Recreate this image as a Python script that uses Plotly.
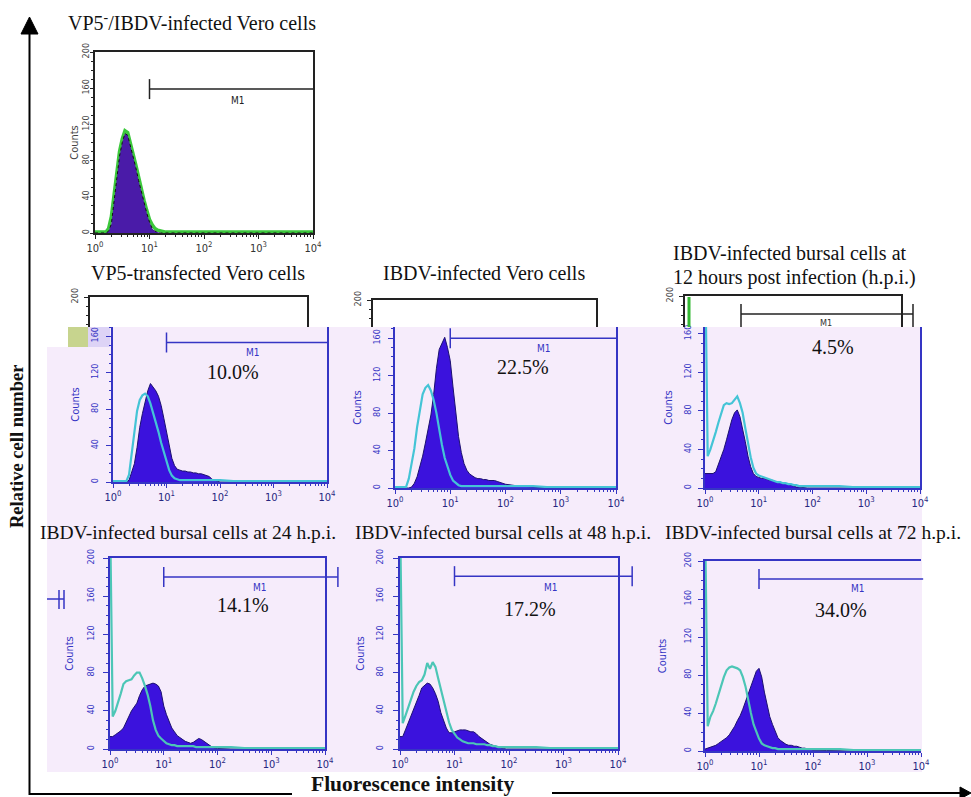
import math
import plotly.graph_objects as go

W, H = 971, 797

# ---------------- data ----------------
LOG_POS = [0.00, 0.05, 0.10, 0.15, 0.20, 0.25, 0.30, 0.35, 0.40, 0.45,
           0.50, 0.55, 0.60, 0.65, 0.70, 0.75, 0.80, 0.85, 0.90, 0.95,
           1.00, 1.05, 1.10, 1.15, 1.20, 1.25, 1.30, 1.35, 1.40, 1.45,
           1.50, 1.55, 1.60, 1.65, 1.70, 1.75, 1.80, 1.85, 1.90, 1.95,
           2.00, 2.25, 2.50, 2.75, 3.00, 3.25, 3.50, 3.75, 4.00]

# VP5-/IBDV-infected Vero cells (control)
P0_FILL = [0, 0, 0, 0, 0, 2, 10, 35, 62, 85, 100, 110, 108, 97, 85, 72, 58, 45, 33, 22,
           12, 5, 2, 1, 0, 0, 0, 0, 0, 0, 0, 0, 0, 0, 0, 0, 0, 0, 0, 0,
           0, 0, 0, 0, 0, 0, 0, 0, 0]
P0_LINE = [1, 1, 1, 1, 1, 5, 18, 42, 68, 90, 104, 113, 111, 100, 88, 75, 62, 48, 36, 25,
           15, 9, 5, 3, 2, 1.5, 1, 1, 1, 1, 1, 1, 1, 1, 1, 1, 1, 1, 1, 1,
           1, 1, 1, 1, 1, 1, 1, 1, 1]
# VP5-transfected Vero cells
P1_FILL = [0, 0, 0, 0, 0, 0, 2, 10, 20, 38, 60, 75, 88, 100, 108, 104, 100, 94, 84, 70,
           55, 38, 26, 18, 14, 13, 12, 12, 11, 11, 10, 10, 9, 9, 8, 7, 6, 3, 2, 1,
           0, 0, 0, 0, 0, 0, 0, 0, 0]
P1_LINE = [1, 1, 1, 1, 1, 1, 8, 32, 60, 78, 90, 95, 97, 94, 86, 76, 66, 55, 43, 32,
           22, 13, 7, 4, 3, 2, 2, 2, 2, 2, 2, 2, 2, 2, 2, 2, 2, 2, 2, 2,
           2, 1, 1, 1, 1, 1, 1, 1, 1]
# IBDV-infected Vero cells
P2_FILL = [0, 0, 0, 0, 0, 0, 1, 5, 12, 22, 34, 48, 62, 78, 100, 128, 148, 155, 161, 150,
           136, 108, 80, 55, 38, 26, 19, 15, 13, 11, 10, 10, 9, 9, 8, 8, 8, 7, 6, 5,
           4, 2, 1, 0.5, 0, 0, 0, 0, 0]
P2_LINE = [1, 1, 1, 1, 1, 10, 25, 42, 65, 85, 100, 107, 110, 104, 94, 80, 62, 46, 32, 22,
           14, 8, 5, 3, 2, 2, 2, 2, 2, 2, 2, 2, 2, 2, 2, 2, 2, 2, 2, 2,
           2, 2, 2, 1, 1, 1, 1, 1, 1]
# IBDV-infected bursal cells, 12 h.p.i.
P3_FILL = [15, 15, 15, 15, 17, 24, 32, 40, 50, 60, 71, 78, 81, 74, 62, 48, 33, 22, 15, 12,
           11, 10, 10, 9, 8, 8, 7, 6, 6, 5, 5, 4, 3, 2, 1, 1, 0.5, 0, 0, 0,
           0, 0, 0, 0, 0, 0, 0, 0, 0]
P3_LINE = [250, 33, 40, 48, 58, 68, 78, 86, 88, 87, 88, 92, 95, 88, 78, 62, 46, 32, 21, 15,
           13, 12, 11, 10, 9, 8, 7, 6, 6, 5, 5, 4, 4, 3, 3, 2, 2, 2, 2, 2,
           2, 2, 2, 1, 1, 1, 1, 1, 1]
# IBDV-infected bursal cells, 24 h.p.i.
P4_FILL = [13, 13, 15, 17, 19, 22, 28, 35, 40, 44, 48, 56, 62, 66, 67, 68, 69, 68, 66, 60,
           45, 36, 28, 22, 18, 14, 12, 10, 8, 7, 6, 7, 9, 11, 10, 8, 6, 4, 2, 1,
           0.5, 0, 0, 0, 0, 0, 0, 0, 0]
P4_LINE = [250, 34, 40, 48, 58, 68, 71, 72, 73, 77, 80, 80, 74, 66, 57, 45, 30, 20, 14, 11,
           8, 6, 5, 4, 4, 3, 3, 3, 3, 3, 3, 3, 2, 2, 2, 2, 2, 2, 2, 2,
           2, 2, 1, 1, 1, 1, 1, 1, 1]
# IBDV-infected bursal cells, 48 h.p.i.
P5_FILL = [13, 13, 20, 27, 33, 40, 48, 56, 64, 67, 69, 68, 64, 58, 50, 38, 30, 22, 17, 17,
           18, 19, 20, 20, 20, 19, 18, 18, 16, 13, 11, 9, 7, 5, 4, 3, 2, 1, 0.5, 0,
           0, 0, 0, 0, 0, 0, 0, 0, 0]
P5_LINE = [250, 27, 35, 44, 52, 60, 66, 70, 72, 78, 90, 84, 91, 86, 74, 62, 50, 38, 28, 20,
           16, 12, 10, 8, 7, 6, 6, 6, 5, 5, 5, 5, 4, 4, 3, 3, 2, 2, 2, 2,
           2, 2, 2, 1, 1, 1, 1, 1, 1]
# IBDV-infected bursal cells, 72 h.p.i.
P6_FILL = [2, 3, 4, 5, 6, 8, 10, 12, 14, 17, 21, 26, 32, 37, 44, 52, 62, 70, 78, 84,
           87, 78, 62, 48, 36, 28, 20, 14, 11, 9, 7, 6, 6, 5, 5, 4, 3, 3, 2, 2,
           1, 0.5, 0, 0, 0, 0, 0, 0, 0]
P6_LINE = [250, 26, 36, 42, 50, 60, 68, 78, 85, 88, 89, 88, 87, 85, 78, 68, 52, 40, 28, 20,
           13, 8, 6, 5, 4, 3, 3, 2, 2, 2, 2, 2, 2, 2, 2, 2, 2, 2, 2, 2,
           2, 2, 2, 1, 1, 1, 1, 1, 1]

PANEL_TITLES = ["VP5<sup>-</sup>/IBDV-infected Vero cells",
                "VP5-transfected Vero cells",
                "IBDV-infected Vero cells",
                "IBDV-infected bursal cells at",
                "12 hours post infection (h.p.i.)",
                "IBDV-infected bursal cells at 24 h.p.i.",
                "IBDV-infected bursal cells at 48 h.p.i.",
                "IBDV-infected bursal cells at 72 h.p.i."]
PERCENTS = ["", "10.0%", "22.5%", "4.5%", "14.1%", "17.2%", "34.0%"]
M1_START = 10
Y_TICKS = [0, 40, 80, 120, 160, 200]
X_TICKS = [1, 10, 100, 1000, 10000]
X_TICK_LABELS = ["10<sup>0</sup>", "10<sup>1</sup>", "10<sup>2</sup>", "10<sup>3</sup>", "10<sup>4</sup>"]
X_MINOR = [m * d for d in (1, 10, 100, 1000) for m in range(2, 10)]

# ---------------- helpers ----------------
def fx(p):
    return p / W

def fy(p):
    return 1 - p / H

X_VALS = [10 ** p for p in LOG_POS]

SERIF = "Liberation Serif, Times New Roman, serif"
NARROW = "Liberation Sans Narrow, DejaVu Sans Condensed, Arial Narrow, sans-serif"
BLUE = "#3535c4"
NAVY = "#262680"
LAV = "#f6ecfb"

PANELS = [
    dict(x=(95, 313), y=(52, 233), ymax=200, fill=P0_FILL, line=P0_LINE, style="white",
         m1_level=159, m1_end=4.0, m1_right_tick=False, m1_lab=(2.63, 146), pct=None,
         mx=True, my=True, tl=3, tls=-2, ts=0),
    dict(x=(113, 327), y=(327, 482), ymax=170, fill=P1_FILL, line=P1_LINE, style="row2",
         m1_level=153, m1_end=4.0, m1_right_tick=False, m1_lab=(2.62, 142), pct=(2.25, 121),
         mx=False, my=True, tl=5, tls=5, ts=8),
    dict(x=(395, 616), y=(327, 488), ymax=172, fill=P2_FILL, line=P2_LINE, style="row2",
         m1_level=160, m1_end=4.0, m1_right_tick=False, m1_lab=(2.7, 149), pct=(2.31, 129),
         mx=False, my=True, tl=5, tls=5, ts=8),
    dict(x=(705, 920), y=(327, 488), ymax=167, fill=P3_FILL, line=P3_LINE, style="row2",
         m1_level=None, m1_end=None, m1_right_tick=False, m1_lab=None, pct=(2.38, 146),
         mx=False, my=True, tl=5, tls=4, ts=8),
    dict(x=(110, 325), y=(558, 749), ymax=200, fill=P4_FILL, line=P4_LINE, style="row3",
         m1_level=180, m1_end=4.24, m1_right_tick=True, m1_lab=(2.79, 169), pct=(2.47, 151),
         mx=True, my=True, tl=5, tls=6, ts=10),
    dict(x=(400, 618), y=(558, 749), ymax=200, fill=P5_FILL, line=P5_LINE, style="row3",
         m1_level=181, m1_end=4.26, m1_right_tick=True, m1_lab=(2.77, 169), pct=(2.39, 147),
         mx=True, my=True, tl=5, tls=7, ts=8),
    dict(x=(705, 921), y=(561, 751), ymax=200, fill=P6_FILL, line=P6_LINE, style="row3",
         m1_level=181, m1_end=4.04, m1_right_tick=False, m1_lab=(2.83, 171), pct=(2.51, 148),
         mx=True, my=False, tl=5, tls=4, ts=14),
]

fig = go.Figure()
shapes = []
annotations = []
layout_axes = {}

# lavender backdrop of the pasted panels
shapes.append(dict(type="rect", xref="paper", yref="paper", layer="below",
                   x0=fx(47), x1=fx(922), y0=fy(772), y1=fy(347),
                   fillcolor=LAV, line=dict(width=0)))
shapes.append(dict(type="rect", xref="paper", yref="paper", layer="below",
                   x0=fx(110), x1=fx(922), y0=fy(348), y1=fy(327),
                   fillcolor=LAV, line=dict(width=0)))
shapes.append(dict(type="rect", xref="paper", yref="paper", layer="below",
                   x0=fx(68), x1=fx(88), y0=fy(347), y1=fy(327),
                   fillcolor="#c7d48e", line=dict(width=0)))
shapes.append(dict(type="rect", xref="paper", yref="paper", layer="below",
                   x0=fx(88), x1=fx(110), y0=fy(347), y1=fy(327),
                   fillcolor="#ddd3f6", line=dict(width=0)))

for i, p in enumerate(PANELS):
    n = i + 1
    xa = "x" if n == 1 else f"x{n}"
    ya = "y" if n == 1 else f"y{n}"
    white = p["style"] == "white"
    axcol = "#222222" if white else BLUE
    xlabcol = "#333333" if white else NAVY
    ylabcol = "#444444" if white else BLUE
    if white:
        fillcol, edgecol, linecol, lw = "#4a1ba8", "#111111", "#3cc83c", 3.5
    elif p["style"] == "row2":
        fillcol, edgecol, linecol, lw = "#3b12dd", "#1c1070", "#44c4d6", 2.2
    else:
        fillcol, edgecol, linecol, lw = "#3b12dd", "#1c1070", "#4cc6b6", 2.2

    overlay = go.Scatter(x=X_VALS, y=p["line"], mode="lines",
                         line=dict(color=linecol, width=lw), xaxis=xa, yaxis=ya,
                         hoverinfo="skip", showlegend=False)
    filled = go.Scatter(x=X_VALS, y=p["fill"], mode="lines", fill="tozeroy",
                        fillcolor=fillcol,
                        line=dict(color=edgecol, width=1, dash="dot" if white else "solid"),
                        xaxis=xa, yaxis=ya, hoverinfo="skip", showlegend=False)
    if white:
        fig.add_trace(overlay)
        fig.add_trace(filled)
    else:
        fig.add_trace(filled)
        fig.add_trace(overlay)

    key_x = "xaxis" if n == 1 else f"xaxis{n}"
    key_y = "yaxis" if n == 1 else f"yaxis{n}"
    layout_axes[key_x] = dict(
        type="log", range=[0, 4], domain=[fx(p["x"][0]), fx(p["x"][1])],
        anchor=ya, showline=True, linecolor=axcol, linewidth=1.5, mirror=p["mx"],
        showgrid=False, zeroline=False, ticks="outside", ticklen=4, tickcolor=axcol,
        tickvals=X_TICKS, ticktext=X_TICK_LABELS, automargin=False,
        tickfont=dict(family=NARROW, size=11, color=xlabcol),
        minor=dict(tickvals=X_MINOR, ticks="outside", ticklen=2, tickcolor=axcol),
        fixedrange=True)
    layout_axes[key_y] = dict(
        range=[0, p["ymax"]], domain=[fy(p["y"][1]), fy(p["y"][0])],
        anchor=xa, showline=True, linecolor=axcol, linewidth=1.5, mirror=p["my"],
        showgrid=False, zeroline=False, ticks="outside", ticklen=p["tl"], tickcolor=axcol,
        tickvals=Y_TICKS, tickangle=-90, ticklabelstandoff=p["tls"], automargin=False,
        tickfont=dict(family=NARROW, size=9, color=ylabcol),
        minor=dict(dtick=10, tick0=0, ticks="outside", ticklen=2, tickcolor=axcol),
        title=dict(text="Counts", font=dict(family=NARROW, size=11, color=ylabcol),
                   standoff=p["ts"]),
        fixedrange=True)

    # M1 marker
    if p["m1_level"] is not None:
        xd0 = math.log10(M1_START) / 4
        xd1 = p["m1_end"] / 4
        yd = p["m1_level"] / p["ymax"]
        hpx = p["y"][1] - p["y"][0]
        tick = 10 / hpx
        dref = dict(xref=f"{xa} domain", yref=f"{ya} domain")
        shapes.append(dict(type="line", x0=xd0, x1=xd1, y0=yd, y1=yd,
                           line=dict(color=axcol, width=1.5), **dref))
        shapes.append(dict(type="line", x0=xd0, x1=xd0, y0=yd - tick, y1=min(yd + tick, 1.0),
                           line=dict(color=axcol, width=1.5), **dref))
        if p["m1_right_tick"]:
            shapes.append(dict(type="line", x0=xd1, x1=xd1, y0=yd - tick, y1=yd + tick,
                               line=dict(color=axcol, width=1.5), **dref))
        annotations.append(dict(xref=xa, yref=ya, x=p["m1_lab"][0], y=p["m1_lab"][1],
                                text="M1", showarrow=False,
                                font=dict(family=NARROW, size=10, color=axcol)))
    if p["pct"] is not None:
        annotations.append(dict(xref=xa, yref=ya, x=p["pct"][0], y=p["pct"][1],
                                text=PERCENTS[i], showarrow=False,
                                font=dict(family=SERIF, size=20, color="#111111")))

# frames of the underlying (covered) panels
PHANTOMS = [
    dict(x=(90, 307), y=(297, 327), low=167.1),
    dict(x=(373, 596), y=(300, 327), low=171.2),
    dict(x=(685, 901), y=(296, 327), low=167.8),
]
for j, ph in enumerate(PHANTOMS):
    n = 8 + j
    layout_axes[f"xaxis{n}"] = dict(
        domain=[fx(ph["x"][0]), fx(ph["x"][1])], anchor=f"y{n}", side="top",
        range=[0, 1], showline=True, linecolor="#222222", linewidth=1.5, automargin=False,
        showticklabels=False, ticks="", showgrid=False, zeroline=False, fixedrange=True)
    layout_axes[f"yaxis{n}"] = dict(
        domain=[fy(ph["y"][1]), fy(ph["y"][0])], anchor=f"x{n}", range=[ph["low"], 200],
        showline=True, mirror=True, linecolor="#222222", linewidth=1.5, automargin=False,
        showgrid=False, zeroline=False, ticks="outside", ticklen=4, tickcolor="#222222",
        tickvals=[200], tickangle=-90, tickfont=dict(family=NARROW, size=9, color="#444444"),
        ticklabelstandoff=3,
        minor=dict(dtick=10, tick0=0, ticks="outside", ticklen=2, tickcolor="#222222"),
        fixedrange=True)
    fig.add_trace(go.Scatter(x=[], y=[], xaxis=f"x{n}", yaxis=f"y{n}", showlegend=False))

# details of the covered 12 h.p.i. panel
shapes.append(dict(type="line", xref="paper", yref="paper", x0=fx(689), x1=fx(689),
                   y0=fy(327), y1=fy(297), line=dict(color="#35b835", width=3)))
shapes.append(dict(type="line", xref="paper", yref="paper", x0=fx(741), x1=fx(913),
                   y0=fy(314), y1=fy(314), line=dict(color="#222222", width=1.5)))
for xx in (741, 913):
    shapes.append(dict(type="line", xref="paper", yref="paper", x0=fx(xx), x1=fx(xx),
                       y0=fy(327), y1=fy(304), line=dict(color="#222222", width=1.5)))
annotations.append(dict(xref="paper", yref="paper", x=fx(834), y=fy(323), text="M1",
                        showarrow=False, font=dict(family=NARROW, size=9, color="#333333")))

# fragment left of the 24 h.p.i. panel
shapes.append(dict(type="line", xref="paper", yref="paper", x0=fx(47), x1=fx(64),
                   y0=fy(599), y1=fy(599), line=dict(color=BLUE, width=1.5)))
for xx in (59, 64):
    shapes.append(dict(type="line", xref="paper", yref="paper", x0=fx(xx), x1=fx(xx),
                       y0=fy(609), y1=fy(590), line=dict(color=BLUE, width=1.5)))

# big axes arrows
shapes.append(dict(type="line", xref="paper", yref="paper", x0=fx(29.5), x1=fx(29.5),
                   y0=fy(795), y1=fy(32), line=dict(color="black", width=2)))
shapes.append(dict(type="path", xref="paper", yref="paper",
                   path=f"M {fx(21)},{fy(34)} L {fx(38)},{fy(34)} L {fx(29.5)},{fy(17)} Z",
                   fillcolor="black", line=dict(color="black", width=1)))
shapes.append(dict(type="line", xref="paper", yref="paper", x0=fx(29), x1=fx(292),
                   y0=fy(794), y1=fy(794), line=dict(color="black", width=2)))
shapes.append(dict(type="line", xref="paper", yref="paper", x0=fx(552), x1=fx(962),
                   y0=fy(793), y1=fy(793), line=dict(color="black", width=2)))
shapes.append(dict(type="path", xref="paper", yref="paper",
                   path=f"M {fx(960)},{fy(787)} L {fx(960)},{fy(799)} L {fx(971)},{fy(793)} Z",
                   fillcolor="black", line=dict(color="black", width=1)))

# titles
def title(text, x, y, anchor="center", size=20):
    annotations.append(dict(xref="paper", yref="paper", x=fx(x), y=fy(y), text=text,
                            xanchor=anchor, yanchor="middle", showarrow=False,
                            font=dict(family=SERIF, size=size, color="#111111")))

title(PANEL_TITLES[0], 192, 22)
title(PANEL_TITLES[1], 198, 273)
title(PANEL_TITLES[2], 484, 273)
title(PANEL_TITLES[3], 671, 253, anchor="left")
title(PANEL_TITLES[4], 671, 277, anchor="left")
title(PANEL_TITLES[5], 188, 532, size=19.5)
title(PANEL_TITLES[6], 503, 532, size=19.5)
title(PANEL_TITLES[7], 813, 532, size=19.5)

annotations.append(dict(xref="paper", yref="paper", x=fx(17), y=fy(447),
                        text="<b>Relative cell number</b>", textangle=-90, showarrow=False,
                        xanchor="center", yanchor="middle",
                        font=dict(family=SERIF, size=18.5, color="#111111")))
annotations.append(dict(xref="paper", yref="paper", x=fx(412), y=fy(784),
                        text="<b>Fluorescence intensity</b>", showarrow=False,
                        xanchor="center", yanchor="middle",
                        font=dict(family=SERIF, size=21.5, color="#111111")))

fig.update_layout(
    width=W, height=H, autosize=False,
    margin=dict(l=0, r=0, t=0, b=0, pad=0, autoexpand=False),
    paper_bgcolor="white", plot_bgcolor="rgba(0,0,0,0)",
    showlegend=False, shapes=shapes, annotations=annotations,
    **layout_axes)

fig.write_html("out.html", config={"displayModeBar": False},
               post_script="document.body.style.margin='0';document.body.style.overflow='hidden';")
